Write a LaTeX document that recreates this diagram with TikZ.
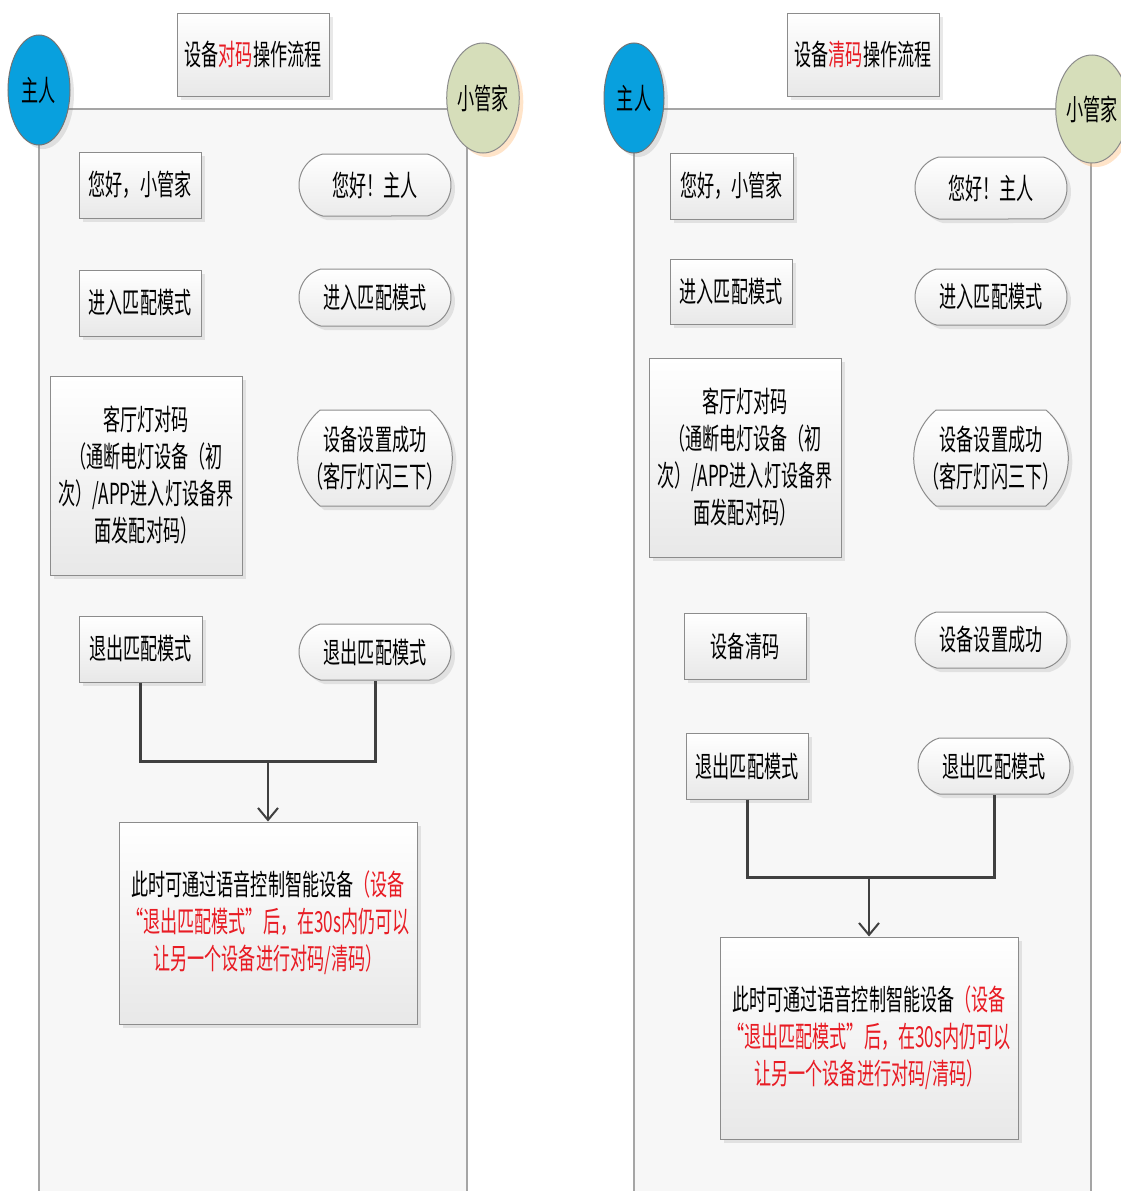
\documentclass[tikz,border=0pt]{standalone}
\usepackage{fontspec}
\setmainfont{Noto Sans CJK SC}[FakeStretch=0.59]
\usetikzlibrary{shapes.geometric,shapes.misc,shadows,arrows.meta}
\definecolor{myred}{RGB}{232,28,36}
\definecolor{laneline}{RGB}{165,165,165}
\definecolor{boxline}{RGB}{140,140,140}
\definecolor{zrblue}{RGB}{8,160,222}
\definecolor{gjgreen}{RGB}{214,222,186}
\definecolor{connc}{RGB}{64,64,64}
\definecolor{lanefill}{RGB}{247,247,247}
\tikzset{
  txt/.style={font=\fontsize{29}{37}\selectfont, align=center, inner sep=0pt, text=black},
  sbox/.style={txt, rectangle, draw=boxline, line width=1pt, top color=white, bottom color=black!9,
    drop shadow={shadow xshift=4pt, shadow yshift=-4pt, opacity=0.18}},
  pillbox/.style={txt, rounded rectangle, rounded rectangle arc length=150, draw=boxline, line width=1pt,
    top color=white, bottom color=black!8,
    drop shadow={shadow xshift=4pt, shadow yshift=-4pt, opacity=0.18}},
  tallpill/.style={pillbox, rounded rectangle arc length=100},
  actor/.style={txt, ellipse, line width=1pt, inner sep=0pt},
  lane/.style={draw=laneline, line width=1.5pt},
  conn/.style={draw=connc, line width=3pt},
  arr/.style={draw=connc, line width=2pt, -{Straight Barb[length=12pt,width=20pt,line width=2pt]}},
}
\begin{document}
\begin{tikzpicture}[x=1pt,y=-1pt]
\useasboundingbox[fill=white] (0,0) rectangle (1121,1191);

% ===== left lane =====
\fill[lanefill] (39,109) rectangle (467,1200);
\draw[lane] (39,1200) -- (39,109) -- (467,109) -- (467,1200);
\node[actor, draw=black!55, fill=zrblue, minimum width=62pt, minimum height=110pt,
  drop shadow={shadow xshift=4pt, shadow yshift=-4pt, opacity=0.2}] (Lzr) at (39,90) {主人};
\node[actor, draw=black!45, fill=gjgreen, minimum width=62pt, minimum height=110pt,
  drop shadow={shadow xshift=4pt, shadow yshift=-4pt, opacity=0.35, fill=orange!60}] (Lgj) at (483,98) {小管家};
\node[sbox, minimum width=152pt, minimum height=83pt] (Ltitle) at (253,54.5) {设备\textcolor{myred}{对码}操作流程};

\node[sbox, minimum width=122pt, minimum height=66pt] (L1) at (140,185) {您好，小管家};
\node[pillbox, minimum width=152pt, minimum height=62pt] (L1p) at (375,185) {您好！主人};
\node[sbox, minimum width=122pt, minimum height=66pt] (L2) at (140,303) {进入匹配模式};
\node[pillbox, minimum width=152pt, minimum height=57pt] (L2p) at (375,297.5) {进入匹配模式};
\node[sbox, minimum width=192pt, minimum height=199pt] (L3) at (146,475.5)
  {客厅灯对码\\（通断电灯设备（初\\次）/APP进入灯设备界\\面发配对码）};
\node[tallpill, minimum width=152pt, minimum height=96pt] (L3p) at (375,458) {设备设置成功\\（客厅灯闪三下）};
\node[sbox, minimum width=123pt, minimum height=66pt] (L4) at (140.5,649) {退出匹配模式};
\node[pillbox, minimum width=152pt, minimum height=56pt] (L4p) at (375,652) {退出匹配模式};
\node[sbox, minimum width=298pt, minimum height=202pt] (Lfin) at (268,923)
  {此时可通过语音控制智能设备\textcolor{myred}{（设备}\\\textcolor{myred}{“退出匹配模式”后，在30s内仍可以}\\\textcolor{myred}{让另一个设备进行对码/清码）}};
\coordinate (Lj) at (268,761);
\draw[conn] (L4.south) |- (Lj) -| (L4p.south);
\draw[arr] (Lj) -- (Lfin.north);

% ===== right lane =====
\fill[lanefill] (634,109) rectangle (1091,1200);
\draw[lane] (634,1200) -- (634,109) -- (1091,109) -- (1091,1200);
\node[actor, draw=black!55, fill=zrblue, minimum width=60pt, minimum height=110pt,
  drop shadow={shadow xshift=4pt, shadow yshift=-4pt, opacity=0.2}] (Rzr) at (634,98) {主人};
\node[actor, draw=black!45, fill=gjgreen, minimum width=60pt, minimum height=108pt,
  drop shadow={shadow xshift=4pt, shadow yshift=-4pt, opacity=0.35, fill=orange!60}] (Rgj) at (1092,109) {小管家};
\node[sbox, minimum width=152pt, minimum height=83pt] (Rtitle) at (863,54.5) {设备\textcolor{myred}{清码}操作流程};

\node[sbox, minimum width=123pt, minimum height=66pt] (R1) at (731.5,186) {您好，小管家};
\node[pillbox, minimum width=152pt, minimum height=62pt] (R1p) at (991,188) {您好！主人};
\node[sbox, minimum width=122pt, minimum height=65pt] (R2) at (731,291.5) {进入匹配模式};
\node[pillbox, minimum width=152pt, minimum height=56pt] (R2p) at (991,297) {进入匹配模式};
\node[sbox, minimum width=192pt, minimum height=199pt] (R3) at (745,457.5)
  {客厅灯对码\\（通断电灯设备（初\\次）/APP进入灯设备界\\面发配对码）};
\node[tallpill, minimum width=152pt, minimum height=96pt] (R3p) at (991,458) {设备设置成功\\（客厅灯闪三下）};
\node[sbox, minimum width=122pt, minimum height=66pt] (R4) at (745,646) {设备清码};
\node[pillbox, minimum width=152pt, minimum height=56pt] (R4p) at (991,640) {设备设置成功};
\node[sbox, minimum width=122pt, minimum height=66pt] (R5) at (747,766) {退出匹配模式};
\node[pillbox, minimum width=152pt, minimum height=56pt] (R5p) at (994,766) {退出匹配模式};
\node[sbox, minimum width=298pt, minimum height=202pt] (Rfin) at (869,1038)
  {此时可通过语音控制智能设备\textcolor{myred}{（设备}\\\textcolor{myred}{“退出匹配模式”后，在30s内仍可以}\\\textcolor{myred}{让另一个设备进行对码/清码）}};
\coordinate (Rj) at (869,877);
\draw[conn] (R5.south) |- (Rj) -| (R5p.south);
\draw[arr] (Rj) -- (Rfin.north);
\end{tikzpicture}
\end{document}
